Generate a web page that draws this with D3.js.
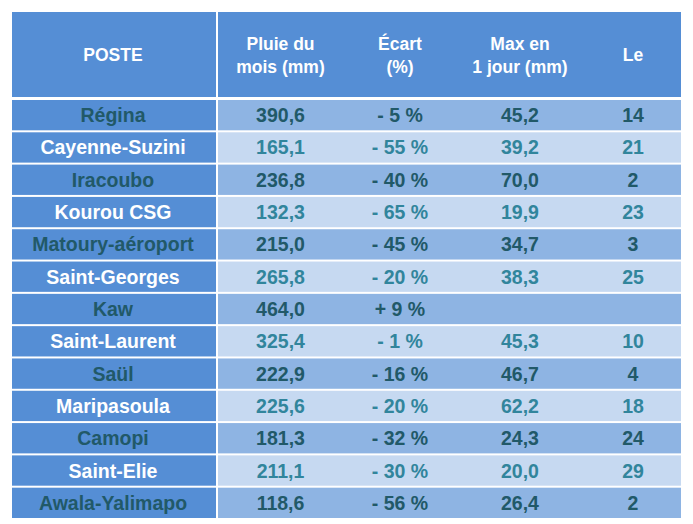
<!DOCTYPE html><html><head><meta charset="utf-8"><script src="https://d3js.org/d3.v7.min.js"></script>
<style>body{margin:0;background:#fff}</style></head><body><svg id="c" width="693" height="524"></svg>
<script>
const postes=["Régina","Cayenne-Suzini","Iracoubo","Kourou CSG","Matoury-aéroport","Saint-Georges","Kaw","Saint-Laurent","Saül","Maripasoula","Camopi","Saint-Elie","Awala-Yalimapo"];
const pluie=["390,6","165,1","236,8","132,3","215,0","265,8","464,0","325,4","222,9","225,6","181,3","211,1","118,6"];
const ecart=["- 5 %","- 55 %","- 40 %","- 65 %","- 45 %","- 20 %","+ 9 %","- 1 %","- 16 %","- 20 %","- 32 %","- 30 %","- 56 %"];
const maxj=["45,2","39,2","70,0","19,9","34,7","38,3","","45,3","46,7","62,2","24,3","20,0","26,4"];
const le=["14","21","2","23","3","25","","10","4","18","24","29","2"];
const headers=[["POSTE"],["Pluie du","mois (mm)"],["Écart","(%)"],["Max en","1 jour (mm)"],["Le"]];
const colEdges=[12,216,345,455,585,681];
const cols=[postes,pluie,ecart,maxj,le];
const svg=d3.select("#c");
const font="Liberation Sans, Arial, sans-serif";
const y=d3.scaleBand().domain(d3.range(13)).range([98,518]).paddingInner(0);
const blue="#558ed5",dark="#215968",teal="#31859c";
// header
svg.append("rect").attr("x",12).attr("y",12).attr("width",669).attr("height",85).attr("fill",blue);
svg.append("line").attr("x1",217).attr("x2",217).attr("y1",12).attr("y2",518).attr("stroke","#fff").attr("stroke-width",2);
headers.forEach((h,i)=>{
  const cx=(colEdges[i]+colEdges[i+1])/2+(i==0?-1:0);
  const t=svg.append("text").attr("x",cx).attr("text-anchor","middle").attr("fill","#fff")
    .attr("font-family",font).attr("font-weight","bold").attr("font-size",17.5);
  const base=h.length==1?61:50;
  h.forEach((s,k)=>t.append("tspan").attr("x",cx).attr("y",base+k*23).text(s));
});
d3.range(13).forEach(r=>{
  const y0=y(r)+2,h=y.bandwidth()-2;
  const odd=r%2==0;
  svg.append("rect").attr("x",12).attr("y",y0).attr("width",204).attr("height",h).attr("fill",blue);
  svg.append("rect").attr("x",218).attr("y",y0).attr("width",463).attr("height",h).attr("fill",odd?"#8eb4e3":"#c6d9f1");
  cols.forEach((c,i)=>{
    const cx=(colEdges[i]+colEdges[i+1])/2+(i==0?-1:0);
    svg.append("text").attr("x",cx).attr("y",y0+h/2+7).attr("text-anchor","middle")
      .attr("font-family",font).attr("font-weight","bold").attr("font-size",19.5)
      .attr("fill",i==0?(odd?dark:"#fff"):(odd?dark:teal)).text(c[r]);
  });
});
</script></body></html>
